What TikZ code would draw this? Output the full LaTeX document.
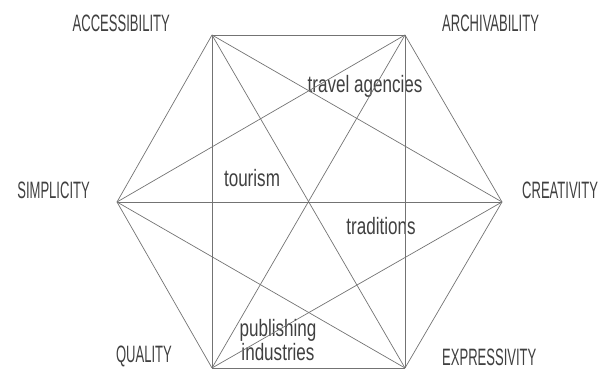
\documentclass[tikz,border=0pt]{standalone}
\usepackage{fontspec}
\setmainfont{Liberation Sans}
\newfontfamily\capfont[FakeStretch=0.55]{Liberation Sans}
\newfontfamily\lowfont[FakeStretch=0.72]{Liberation Sans}
\usetikzlibrary{positioning,calc}
\tikzset{
corner/.style = {coordinate},
value/.style  = {inner sep=0pt, text=black!75, font=\capfont\fontsize{23.7}{26}\selectfont},
topic/.style  = {inner sep=0pt, text=black!75, align=center, font=\lowfont\fontsize{23.7}{22}\selectfont},
link/.style   = {draw=black!55, line width=0.7pt}
}
\begin{document}
\begin{tikzpicture}[x=1pt, y=-1pt]

                \useasboundingbox (0,0) rectangle (606,371);
                % corners of the hexagon
                \node [corner] (acc) at (212,35) {};
                \node [corner] (arc) at (405,35) {};
                \node [corner] (cre) at (502,202) {};
                \node [corner] (exp) at (405,368) {};
                \node [corner] (qua) at (212,368) {};
                \node [corner] (sim) at (117,202) {};

                % outer labels
                \node [value, above left=3pt and 42pt of acc] (accl) {ACCESSIBILITY};
                \node [value, above right=3pt and 37pt of arc] (arcl) {ARCHIVABILITY};
                \node [value, above right=3pt and 20pt of cre] (crel) {CREATIVITY};
                \node [value, above right=2pt and 37pt of exp] (expl) {EXPRESSIVITY};
                \node [value, above left=1pt and 40pt of qua] (qual) {QUALITY};
                \node [value, above left=3pt and 27pt of sim] (siml) {SIMPLICITY};

                % inner labels
                \node [topic] (travel) at (365,86) {travel agencies};
                \node [topic] (tour) at (252,178) {tourism};
                \node [topic] (trad) at (381,226) {traditions};
                \node [topic] (publ) at (278,340) {publishing\\industries};

                % hexagon
                \draw [link] (acc) -- (arc);
                \draw [link] (arc) -- (cre);
                \draw [link] (cre) -- (exp);
                \draw [link] (exp) -- (qua);
                \draw [link] (qua) -- (sim);
                \draw [link] (sim) -- (acc);
                % diagonals
                \draw [link] (acc) -- (cre);
                \draw [link] (acc) -- (exp);
                \draw [link] (acc) -- (qua);
                \draw [link] (arc) -- (exp);
                \draw [link] (arc) -- (qua);
                \draw [link] (arc) -- (sim);
                \draw [link] (cre) -- (qua);
                \draw [link] (cre) -- (sim);
                \draw [link] (exp) -- (sim);
            \end{tikzpicture}
\end{document}
